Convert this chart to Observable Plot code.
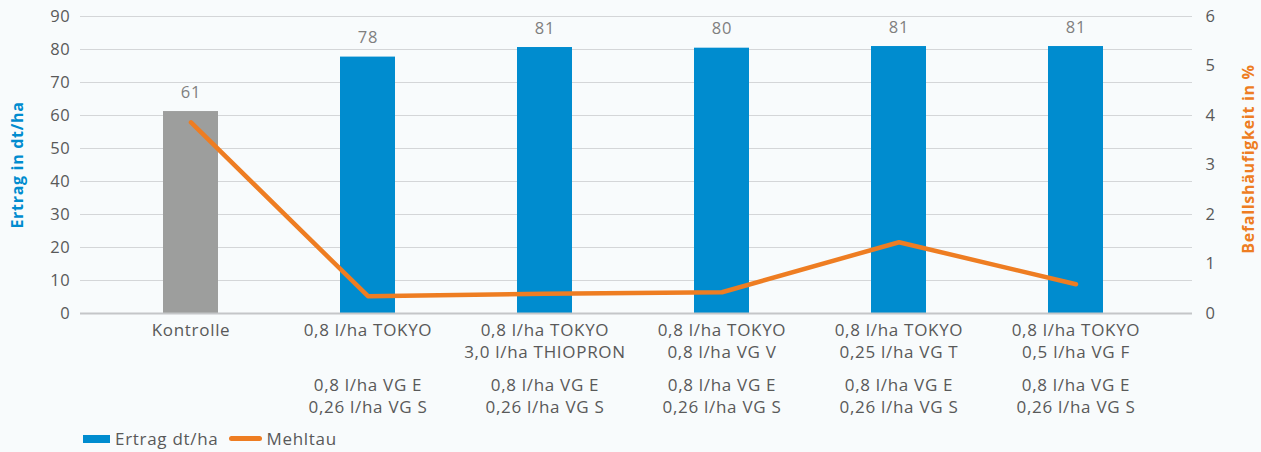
<!DOCTYPE html>
<html>
<head>
<meta charset="utf-8">
<script src="https://cdn.jsdelivr.net/npm/d3@7"></script>
<script src="https://cdn.jsdelivr.net/npm/@observablehq/plot@0.6"></script>
<style>
  html, body { margin: 0; padding: 0; background: #f8fbfc; }
  #chart { width: 1261px; }
  #chart svg text { letter-spacing: 0.7px; }
  .legend { display: flex; align-items: center; height: 27px; padding-left: 83px; font-family: "Open Sans", sans-serif; font-size: 17px; letter-spacing: 0.7px; color: #595959; }
  .legend .sw-bar { width: 27px; height: 8px; background: #008ccf; margin-right: 5px; }
  .legend .sw-line { width: 33px; height: 5px; border-radius: 3px; background: #ee7d22; margin-left: 11px; margin-right: 4px; }
</style>
</head>
<body>
<div id="chart"></div>
<script>
// Categories (main tick labels) and second label block
const categories = [
  "Kontrolle",
  "0,8 l/ha TOKYO",
  "0,8 l/ha TOKYO\n3,0 l/ha THIOPRON",
  "0,8 l/ha TOKYO\n0,8 l/ha VG V",
  "0,8 l/ha TOKYO\n0,25 l/ha VG T",
  "0,8 l/ha TOKYO\n0,5 l/ha VG F"
];
const subLabels = [
  "",
  "0,8 l/ha VG E\n0,26 l/ha VG S",
  "0,8 l/ha VG E\n0,26 l/ha VG S",
  "0,8 l/ha VG E\n0,26 l/ha VG S",
  "0,8 l/ha VG E\n0,26 l/ha VG S",
  "0,8 l/ha VG E\n0,26 l/ha VG S"
];
// Ertrag dt/ha (left axis)
const ertrag = [61.2, 77.7, 80.6, 80.4, 80.9, 80.9];
const ertragLabels = ["61", "78", "81", "80", "81", "81"];
// Mehltau Befallshäufigkeit in % (right axis)
const mehltau = [3.86, 0.35, 0.40, 0.43, 1.44, 0.59];
const leftTicks = [0, 10, 20, 30, 40, 50, 60, 70, 80, 90];
const rightTicks = [0, 1, 2, 3, 4, 5, 6];

const ratio = 90 / 6;
const data = categories.map((c, i) => ({cat: c, sub: subLabels[i], ertrag: ertrag[i], label: ertragLabels[i], mehltau: mehltau[i], i}));

const BLUE = "#008ccf", GRAY = "#9d9e9d", ORANGE = "#ee7d22";
const FONT = "Open Sans, sans-serif";

const chart = Plot.plot({
  width: 1261,
  height: 425,
  marginLeft: 80,
  marginRight: 69,
  marginTop: 16,
  marginBottom: 112,
  style: {fontFamily: FONT, fontSize: "16px", background: "transparent", color: "#595959"},
  x: {type: "band", domain: categories, paddingInner: 0.69, paddingOuter: 0.484, align: 0.485},
  y: {domain: [0, 90]},
  marks: [
    Plot.ruleY(leftTicks.filter(d => d > 0), {stroke: "#d4d6d8", strokeWidth: 1.2}),
    Plot.barY(data, {x: "cat", y: "ertrag", fill: d => d.i === 0 ? GRAY : BLUE}),
    Plot.ruleY([0], {stroke: "#c4c6c8", strokeWidth: 2}),
    Plot.text(data, {x: "cat", y: "ertrag", text: "label", dy: -19, fill: "#7f7f7f", fontSize: 16.5}),
    Plot.line(data, {x: "cat", y: d => d.mehltau * ratio, stroke: ORANGE, strokeWidth: 4.5, strokeLinecap: "round", strokeLinejoin: "round"}),
    Plot.axisY(leftTicks, {anchor: "left", tickSize: 0, tickPadding: 10, label: null, fill: "#595959", fontSize: 16.5}),
    Plot.axisY(rightTicks.map(d => d * ratio), {anchor: "right", tickSize: 0, tickPadding: 13, tickFormat: d => String(Math.round(d / ratio)), label: null, fill: "#595959", fontSize: 16.5, textAnchor: "start"}),
    Plot.axisX(categories, {anchor: "bottom", tickSize: 0, tickPadding: 6, label: null, lineHeight: 1.34, fill: "#595959", fontSize: 17}),
    Plot.text(data, {x: "cat", text: "sub", frameAnchor: "bottom", lineAnchor: "top", dy: 61, lineHeight: 1.34, fill: "#595959", fontSize: 17}),
    Plot.text(["Ertrag in dt/ha"], {frameAnchor: "left", textAnchor: "middle", rotate: -90, dx: -63, fill: BLUE, fontWeight: "bold", fontSize: 16}),
    Plot.text(["Befallshäufigkeit in %"], {frameAnchor: "right", textAnchor: "middle", rotate: -90, dx: 56, dy: -6, fill: ORANGE, fontWeight: "bold", fontSize: 16})
  ]
});
document.getElementById("chart").appendChild(chart);

const legend = document.createElement("div");
legend.className = "legend";
legend.innerHTML = '<span class="sw-bar"></span><span>Ertrag dt/ha</span><span class="sw-line"></span><span>Mehltau</span>';
document.getElementById("chart").appendChild(legend);
</script>
</body>
</html>
